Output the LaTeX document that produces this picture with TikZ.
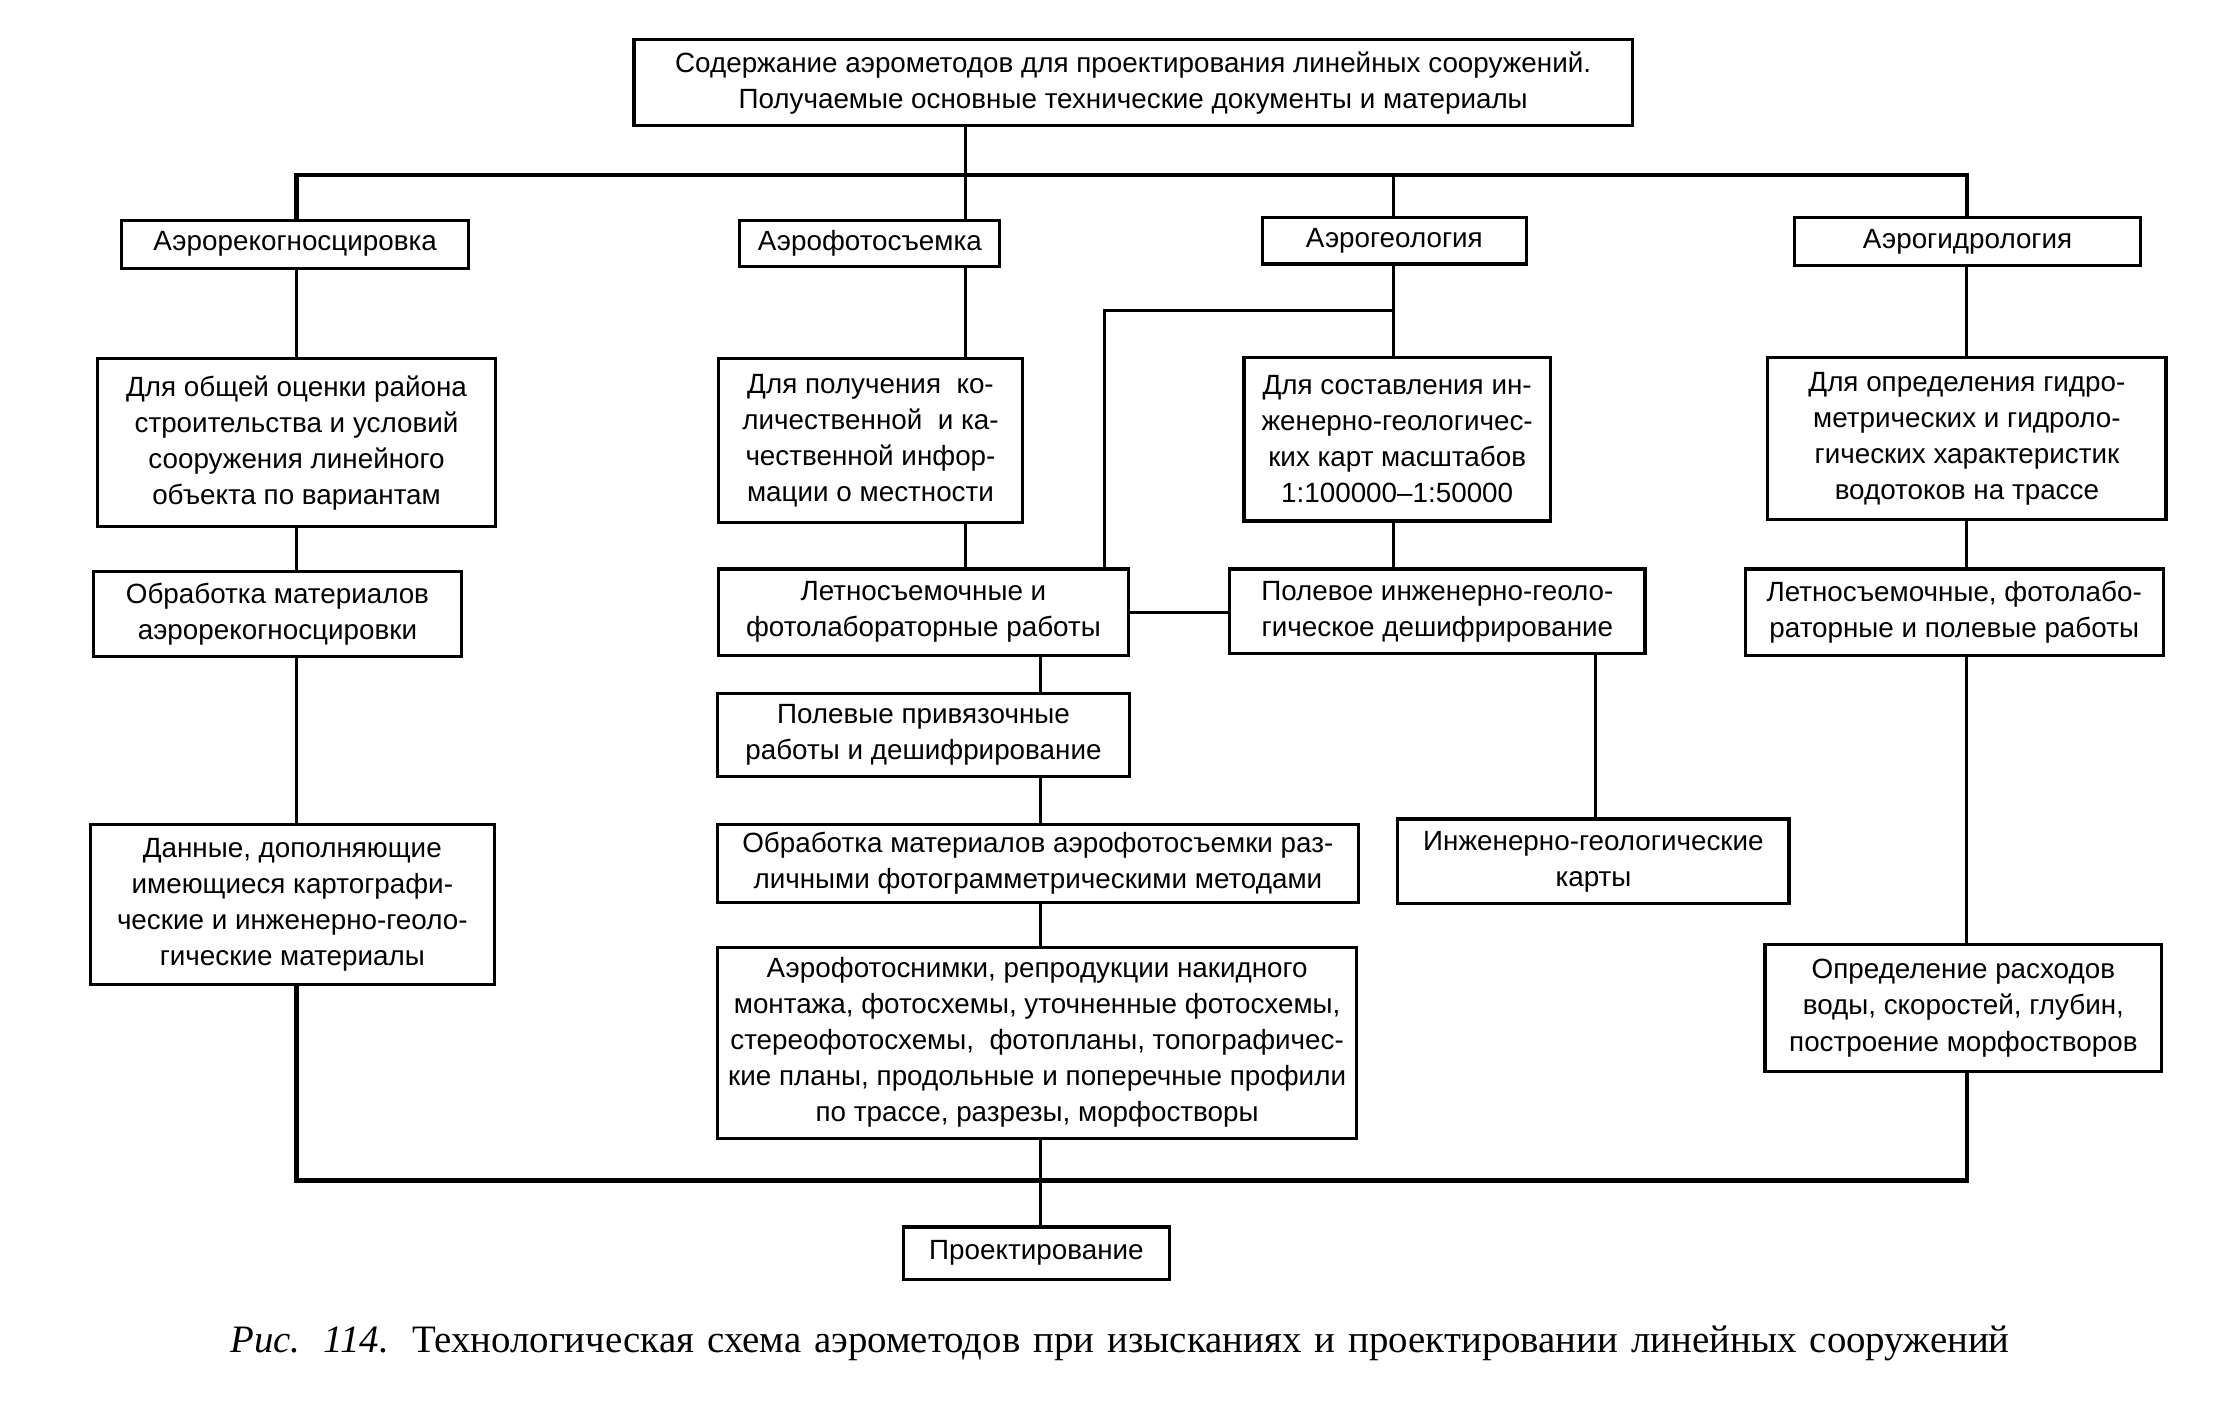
\documentclass[tikz,border=0pt]{standalone}
\usepackage{fontspec}
\setmainfont{Liberation Sans}
\newfontfamily\capfont{Liberation Serif}
\begin{document}
\begin{tikzpicture}[x=1pt,y=-1pt,
  box/.style={draw, line width=2.2pt, align=center, inner sep=0pt, font=\fontsize{19.7}{25.5}\selectfont},
  conn/.style={line width=2.2pt},
  bus/.style={line width=3pt, line join=miter}]
\useasboundingbox (0,0) rectangle (1568,1003);
\fill[white] (0,0) rectangle (1568,1003);

% boxes
\node[box, minimum width=707pt, minimum height=61pt] (top) at (802.5,58.5)
  {Содержание аэрометодов для проектирования линейных сооружений.\\Получаемые основные технические документы и материалы};
\node[box, minimum width=246pt, minimum height=34pt] (rek) at (209,173) {Аэрорекогносцировка};
\node[box, minimum width=184pt, minimum height=33pt] (foto) at (616,172.5) {Аэрофотосъемка};
\node[box, minimum width=187pt, minimum height=33pt] (geol) at (987.5,170.5) {Аэрогеология};
\node[box, minimum width=245pt, minimum height=34pt] (gidr) at (1393.5,171) {Аэрогидрология};

\node[box, minimum width=282pt, minimum height=119pt] (obsh) at (210,313.5)
  {Для общей оценки района\\строительства и условий\\сооружения линейного\\объекта по вариантам};
\node[box, minimum width=215pt, minimum height=116pt] (polu) at (616.5,312)
  {Для получения\ \ ко-\\личественной\ \ и ка-\\чественной инфор-\\мации о местности};
\node[box, minimum width=217pt, minimum height=116pt] (sost) at (989.5,311)
  {Для составления ин-\\женерно-геологичес-\\ких карт масштабов\\1:100000–1:50000};
\node[box, minimum width=282pt, minimum height=115pt] (opre) at (1393,310.5)
  {Для определения гидро-\\метрических и гидроло-\\гических характеристик\\водотоков на трассе};

\node[box, minimum width=261pt, minimum height=60pt] (obrr) at (196.5,435)
  {Обработка материалов\\аэрорекогносцировки};
\node[box, minimum width=290pt, minimum height=61pt] (let1) at (654,433.5)
  {Летносъемочные и\\фотолабораторные работы};
\node[box, minimum width=294pt, minimum height=60pt] (pole) at (1018,433)
  {Полевое инженерно-геоло-\\гическое дешифрирование};
\node[box, minimum width=296pt, minimum height=61pt] (let2) at (1384,433.5)
  {Летносъемочные, фотолабо-\\раторные и полевые работы};

\node[box, minimum width=292pt, minimum height=59pt] (priv) at (654,520.5)
  {Полевые привязочные\\работы и дешифрирование};
\node[box, minimum width=286pt, minimum height=113pt] (dann) at (207,640.5)
  {Данные, дополняющие\\имеющиеся картографи-\\ческие и инженерно-геоло-\\гические материалы};
\node[box, minimum width=454pt, minimum height=55pt] (obrf) at (735,611.5)
  {Обработка материалов аэрофотосъемки раз-\\личными фотограмметрическими методами};
\node[box, minimum width=277pt, minimum height=60pt] (karty) at (1128.5,610)
  {Инженерно-геологические\\карты};
\node[box, minimum width=453pt, minimum height=135pt] (snim) at (734.5,738.5)
  {Аэрофотоснимки, репродукции накидного\\монтажа, фотосхемы, уточненные фотосхемы,\\стереофотосхемы,\ \ фотопланы, топографичес-\\кие планы, продольные и поперечные профили\\по трассе, разрезы, морфостворы};
\node[box, minimum width=281pt, minimum height=90pt] (rash) at (1390.5,714)
  {Определение расходов\\воды, скоростей, глубин,\\построение морфостворов};
\node[box, minimum width=188pt, minimum height=37pt] (proe) at (734,887.5) {Проектирование};

% reference coordinates
\coordinate (xL) at (210,0);
\coordinate (xF) at (684,0);
\coordinate (xM) at (737,0);
\coordinate (xG) at (987,0);
\coordinate (xB) at (782,220);
\coordinate (xK) at (1130,0);
\coordinate (xR) at (1393,0);
\coordinate (bus1) at (0,124);
\coordinate (bus2) at (0,836);

% upper bus
\draw[bus] (rek.north -| xL) -- (bus1 -| xL) -- (bus1 -| xR) -- (gidr.north -| xR);
\draw[conn] (top.south -| xF) -- (foto.north -| xF);
\draw[conn] (bus1 -| xG) -- (geol.north -| xG);

% left column
\draw[conn] (rek.south -| xL) -- (obsh.north -| xL);
\draw[conn] (obsh.south -| xL) -- (obrr.north -| xL);
\draw[conn] (obrr.south -| xL) -- (dann.north -| xL);

% lower bus
\draw[bus] (dann.south -| xL) -- (bus2 -| xL) -- (bus2 -| xR) -- (rash.south -| xR);

% middle column
\draw[conn] (foto.south -| xF) -- (polu.north -| xF);
\draw[conn] (polu.south -| xF) -- (let1.north -| xF);
\draw[conn] (let1.south -| xM) -- (priv.north -| xM);
\draw[conn] (priv.south -| xM) -- (obrf.north -| xM);
\draw[conn] (obrf.south -| xM) -- (snim.north -| xM);
\draw[conn] (snim.south -| xM) -- (proe.north -| xM);

% geology column
\draw[conn] (geol.south -| xG) -- (sost.north -| xG);
\draw[conn, line join=miter] (xB -| xG) -- (xB) -- (let1.north -| xB);
\draw[conn] (sost.south -| xG) -- (pole.north -| xG);
\draw[conn] (let1.east) -- (let1.east -| pole.west);
\draw[conn] (pole.south -| xK) -- (karty.north -| xK);

% hydrology column
\draw[conn] (gidr.south -| xR) -- (opre.north -| xR);
\draw[conn] (opre.south -| xR) -- (let2.north -| xR);
\draw[conn] (let2.south -| xR) -- (rash.north -| xR);

% caption
\node[font=\capfont\fontsize{27.5}{32}\selectfont, anchor=base west, inner sep=0pt] (cap) at (163,958)
  {\makebox[1260pt][s]{\textit{Рис. 114.} Технологическая схема аэрометодов при изысканиях и проектировании линейных сооружений}};
\end{tikzpicture}
\end{document}
